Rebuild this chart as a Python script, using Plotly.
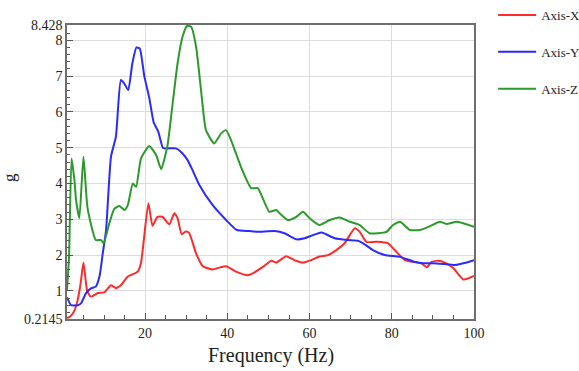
import plotly.graph_objects as go

# ---- data ----
freq_x = [1, 1.9, 2.8, 3.5, 4.3, 5.0, 5.9, 6.8, 8.5, 10.1, 11.7, 12.9, 14.1, 15.8, 18.2, 19.0,
          20.8, 21.8, 23.0, 24.2, 25.9, 27.1, 27.9, 28.9, 29.9, 30.7, 32.4, 34.0, 36.4, 38.0,
          39.7, 42.1, 45.0, 46.6, 49.0, 50.7, 51.9, 54.3, 56.3, 58.4, 60.4, 62.4, 64.5, 66.5,
          68.5, 71.0, 72.2, 73.8, 76.3, 79.1, 80.7, 83.2, 85.2, 87.2, 88.5, 89.7, 91.3, 92.9,
          95.0, 97.4, 100]
accel_x = [0.24, 0.30, 0.45, 0.70, 1.20, 1.79, 1.00, 0.84, 0.94, 0.96, 1.16, 1.08, 1.16, 1.40, 1.54, 1.78,
           3.45, 2.82, 3.07, 3.07, 2.86, 3.17, 3.03, 2.58, 2.66, 2.62, 2.05, 1.69, 1.60, 1.65,
           1.69, 1.54, 1.44, 1.52, 1.70, 1.84, 1.79, 1.97, 1.86, 1.79, 1.86, 1.96, 2.00, 2.14,
           2.33, 2.75, 2.65, 2.37, 2.37, 2.33, 2.14, 1.86, 1.81, 1.77, 1.66, 1.81, 1.84, 1.79,
           1.63, 1.32, 1.42]

freq_y = [1, 2.0, 3.6, 4.4, 5.6, 6.8, 8.0, 8.9, 9.7, 10.5, 11.7, 12.9, 14.1, 14.9, 15.9, 16.9,
          17.9, 18.7, 19.8, 21.0, 22.1, 23.2, 24.3, 25.0, 27.5, 29.1, 30.3, 31.5, 33.2, 36.4,
          39.7, 42.3, 45.4, 47.4, 51.5, 53.9, 56.8, 58.8, 62.9, 66.1, 69.3, 71.8, 73.4, 75.4,
          78.3, 82.0, 85.6, 87.6, 90.1, 92.5, 95.4, 97.4, 100]
accel_y = [0.82, 0.60, 0.60, 0.65, 0.93, 1.07, 1.12, 1.40, 2.05, 2.70, 4.75, 5.31, 6.89, 6.80, 6.61, 7.36,
           7.80, 7.77, 7.00, 6.40, 5.70, 5.45, 5.00, 4.98, 4.98, 4.84, 4.66, 4.38, 3.96, 3.40,
           2.98, 2.70, 2.67, 2.65, 2.67, 2.61, 2.44, 2.47, 2.63, 2.47, 2.42, 2.40, 2.30, 2.14,
           2.00, 1.95, 1.81, 1.77, 1.77, 1.75, 1.72, 1.77, 1.86]

freq_z = [1, 1.5, 2.1, 2.8, 3.2, 4.0, 5.0, 6.0, 8.0, 9.3, 9.9, 11.3, 12.5, 13.7, 15.0, 15.8,
          17.0, 17.8, 19.0, 21.0, 22.7, 23.9, 25.4, 26.7, 27.9, 29.1, 30.2, 31.2, 32.4, 33.6,
          34.8, 36.8, 38.5, 39.7, 40.9, 43.3, 45.8, 47.4, 50.2, 51.9, 52.7, 54.7, 56.8, 58.4,
          60.0, 62.4, 64.9, 67.3, 69.8, 72.2, 74.6, 78.7, 80.3, 82.0, 84.4, 86.8, 89.3, 91.7,
          93.3, 95.8, 100]
accel_z = [1.02, 1.96, 4.70, 4.10, 3.54, 3.03, 4.75, 3.31, 2.42, 2.42, 2.33, 2.89, 3.29, 3.37, 3.26, 3.40,
           4.00, 3.91, 4.70, 5.05, 4.79, 4.40, 5.03, 6.24, 7.36, 8.10, 8.40, 8.38, 7.82, 6.61,
           5.49, 5.12, 5.40, 5.49, 5.21, 4.47, 3.87, 3.87, 3.21, 3.26, 3.17, 2.98, 3.07, 3.21,
           3.03, 2.84, 2.98, 3.05, 2.93, 2.84, 2.61, 2.65, 2.84, 2.93, 2.70, 2.70, 2.81, 2.93,
           2.87, 2.93, 2.79]

series_names = ["Axis-X", "Axis-Y", "Axis-Z"]
series_colors = ["#ff2a2a", "#2a2aff", "#2a9a2a"]

x_ticks = [20, 40, 60, 80, 100]
y_ticks = [0.2145, 1, 2, 3, 4, 5, 6, 7, 8, 8.428]
y_ticklabels = ["0.2145", "1", "2", "3", "4", "5", "6", "7", "8", "8.428"]

FONT = "Liberation Serif, Times New Roman, serif"

fig = go.Figure()
for i, (fx, fy) in enumerate([(freq_x, accel_x), (freq_y, accel_y), (freq_z, accel_z)]):
    fig.add_trace(go.Scatter(
        x=fx, y=fy, mode="lines", name=series_names[i], legendgroup=series_names[i],
        line=dict(color=series_colors[i], width=2, shape="spline", smoothing=0.5),
    ))

fig.update_layout(
    width=579, height=371,
    margin=dict(l=67, r=105, t=25, b=52, autoexpand=False),
    paper_bgcolor="white", plot_bgcolor="white",
    font=dict(family=FONT, size=13, color="#222222"),
    showlegend=True,
    legend=dict(x=1.047, y=1.085, xanchor="left", yanchor="top", itemwidth=38,
                font=dict(family=FONT, size=13, color="#222222"),
                tracegroupgap=17, bgcolor="rgba(0,0,0,0)"),
    annotations=[
        dict(text="Frequency (Hz)", xref="paper", yref="paper", x=0.5, y=-0.125,
             xanchor="center", yanchor="middle", showarrow=False,
             font=dict(family=FONT, size=20, color="#222222")),
        dict(text="g", xref="paper", yref="paper", x=-0.14, y=0.48, textangle=-90,
             xanchor="center", yanchor="middle", showarrow=False,
             font=dict(family=FONT, size=17, color="#222222")),
    ],
)
fig.update_xaxes(
    range=[1, 100], tickmode="array", tickvals=x_ticks, automargin=False,
    ticks="inside", ticklen=6, tickcolor="#555555",
    showgrid=True, gridcolor="#dcdcdc", gridwidth=1,
    showline=True, linecolor="#6e6e6e", linewidth=1.5, mirror=True,
    zeroline=False,
    minor=dict(dtick=5, tick0=0, ticks="inside", ticklen=4, tickcolor="#555555", showgrid=False),
    tickfont=dict(family=FONT, size=14, color="#222222"),
)
fig.update_yaxes(
    range=[0.2145, 8.428], tickmode="array", tickvals=y_ticks, ticktext=y_ticklabels,
    automargin=False,
    ticks="inside", ticklen=6, tickcolor="#555555",
    showgrid=True, gridcolor="#dcdcdc", gridwidth=1,
    showline=True, linecolor="#6e6e6e", linewidth=1.5, mirror=True,
    zeroline=False,
    minor=dict(dtick=0.2, tick0=0, ticks="inside", ticklen=3, tickcolor="#555555", showgrid=False),
    tickfont=dict(family=FONT, size=14, color="#222222"),
)

fig.write_html("out.html", config={"displayModeBar": False},
               post_script="document.body.style.margin='0';document.body.style.overflow='hidden';")
